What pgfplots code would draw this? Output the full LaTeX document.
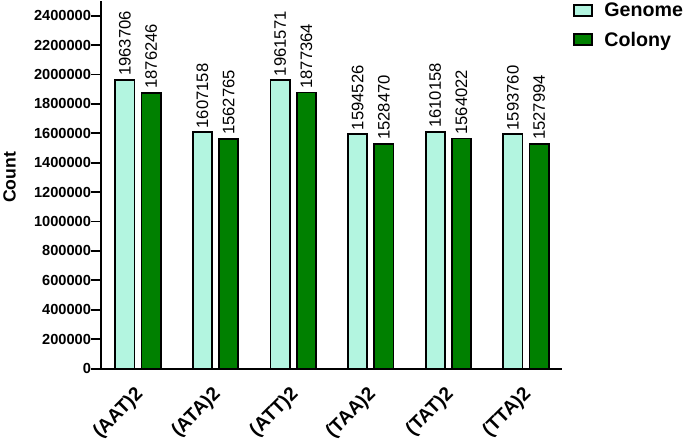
\documentclass[border=0pt]{standalone}
\usepackage{fontspec}
\setmainfont{Liberation Sans}
\usepackage{pgfplots}
\pgfplotsset{compat=1.18}
\definecolor{genome}{RGB}{179,245,224}
\definecolor{colony}{RGB}{0,128,0}
\begin{document}
\begin{tikzpicture}
\begin{axis}[
    scale only axis,
    width=457pt, height=365pt,
    ybar=7pt, bar width=19pt,
    xmin=-0.474, xmax=5.46,
    ymin=0, ymax=2500000,
    ytick={0,200000,...,2400000},
    xtick=data,
    xticklabels={(AAT)2,(ATA)2,(ATT)2,(TAA)2,(TAT)2,(TTA)2},
    axis x line*=bottom, axis y line*=left,
    axis line style={line width=1.8pt},
    x tick style={draw=none},
    y tick style={line width=1.8pt, black},
    ytick align=outside,
    major tick length=10pt,
    scaled y ticks=false,
    /pgf/number format/assume math mode=true,
    yticklabel style={/pgf/number format/fixed, /pgf/number format/1000 sep={},
        font=\bfseries\fontsize{14.5}{14.5}\selectfont, inner sep=1pt, xshift=1pt},
    xticklabel style={yshift=-12pt, xshift=3pt, rotate=45, anchor=east,
        font=\bfseries\fontsize{19}{19}\selectfont, inner sep=1pt},
    ylabel={\bfseries Count},
    ylabel style={font=\fontsize{17.5}{17.5}\selectfont, at={(axis description cs:-0.199,0.52)}, anchor=center},
    point meta=explicit symbolic,
    nodes near coords,
    nodes near coords style={rotate=90, anchor=west, font=\fontsize{16.5}{16.5}\selectfont, inner sep=3pt, black},
    legend style={at={(1.025,1.0)}, anchor=north west, draw=none, inner sep=0pt,
        font=\bfseries\fontsize{19.5}{19.5}\selectfont, row sep=10pt},
    legend cell align=left,
    every axis plot post/.append style={
        legend image code/.code={\draw[##1, line width=1.8pt] (0pt,-5pt) rectangle (18pt,6pt);
            \path (27pt,0pt);}},
]
\addplot[fill=genome, draw=black, line width=1.8pt] coordinates {
    (0,1963706) [1963706] (1,1607158) [1607158] (2,1961571) [1961571]
    (3,1594526) [1594526] (4,1610158) [1610158] (5,1593760) [1593760]};
\addplot[fill=colony, draw=black, line width=1.8pt] coordinates {
    (0,1876246) [1876246] (1,1562765) [1562765] (2,1877364) [1877364]
    (3,1528470) [1528470] (4,1564022) [1564022] (5,1527994) [1527994]};
\legend{Genome, Colony}
\end{axis}
\end{tikzpicture}
\end{document}
